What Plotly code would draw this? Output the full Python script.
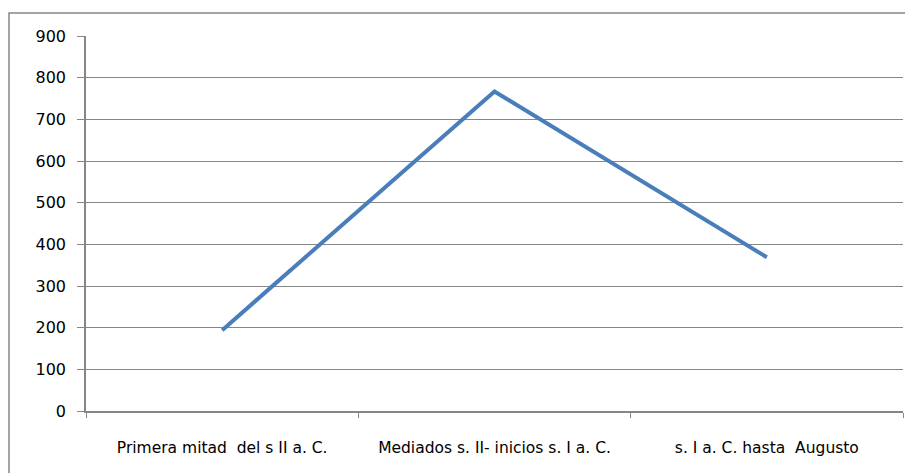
import plotly.graph_objects as go

categories = ["Primera mitad  del s II a. C.", "Mediados s. II- inicios s. I a. C.", "s. I a. C. hasta  Augusto"]
values = [194, 767, 369]
y_ticks = [0, 100, 200, 300, 400, 500, 600, 700, 800, 900]

# page body has an 8px offset
OFF = 8
W, H = 913 - OFF, 473 - OFF
L, T = 86 - OFF, 36 - OFF
R = W - (903 - OFF)
B = H - (411 - OFF)
pw, ph = W - L - R, H - T - B

def px_x(x):
    return (x - OFF - L) / pw

def px_y(y):
    return (H - B - (y - OFF)) / ph

fig = go.Figure()
fig.add_trace(go.Scatter(
    x=categories, y=values, mode="lines",
    line=dict(color="#4a7ebb", width=4),
    hoverinfo="skip", showlegend=False,
))

fig.update_layout(
    width=W, height=H,
    margin=dict(l=L, r=R, t=T, b=B, autoexpand=False),
    paper_bgcolor="white", plot_bgcolor="white",
    font=dict(family="DejaVu Sans, sans-serif", size=13, color="#000000"),
    showlegend=False,
    xaxis=dict(
        type="category", tickson="boundaries", ticks="outside", ticklen=5,
        tickcolor="#868686", showline=True, linecolor="#868686", linewidth=1.5,
        showgrid=False, ticklabelstandoff=22, tickfont=dict(size=15.5),
        range=[-0.5, 2.5], fixedrange=True, automargin=False,
    ),
    yaxis=dict(
        range=[0, 900], tickvals=y_ticks, ticks="outside", ticklen=7,
        tickcolor="#868686", showline=True, linecolor="#868686", linewidth=1.5,
        showgrid=True, gridcolor="#868686", gridwidth=1.2, zeroline=False,
        tickfont=dict(size=16), ticklabelstandoff=8, fixedrange=True,
        automargin=False,
    ),
    shapes=[dict(
        type="rect", xref="paper", yref="paper",
        x0=px_x(9), x1=px_x(930), y0=px_y(490), y1=px_y(13),
        line=dict(color="#868686", width=1.5), fillcolor="rgba(0,0,0,0)",
        layer="below",
    )],
)

fig.write_html("out.html")
